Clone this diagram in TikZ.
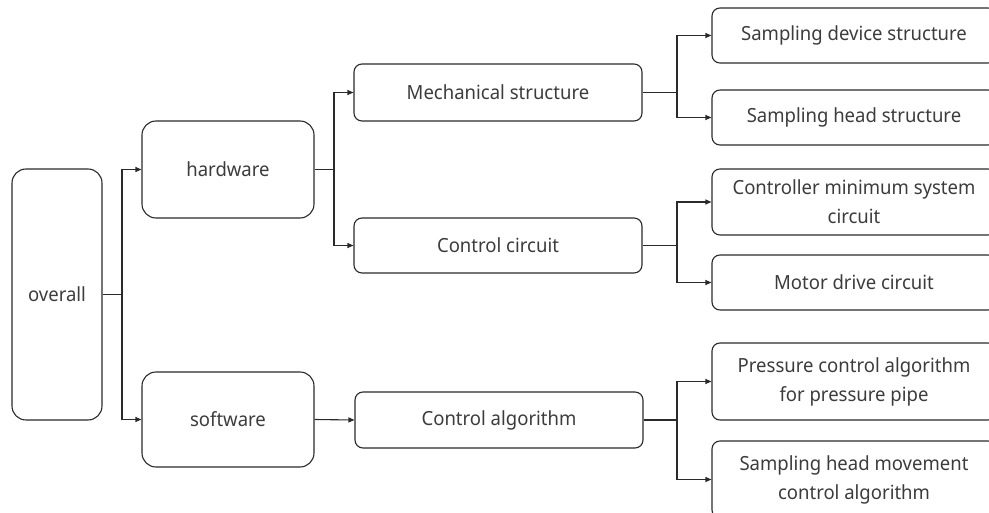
\documentclass[tikz,border=0pt]{standalone}
\usepackage{fontspec}
\setmainfont[FakeStretch=0.95]{Noto Sans}
\usetikzlibrary{arrows.meta}
\definecolor{linec}{HTML}{2A2A2A}
\definecolor{textc}{HTML}{3C3C3C}
\tikzset{
  box/.style={draw=linec, line width=1.1pt, rounded corners=8pt, text=textc,
    align=center, inner sep=0pt, font=\fontsize{19.5}{29}\selectfont},
  bigbox/.style={box, rounded corners=14pt},
  link/.style={draw=linec, line width=1.1pt},
  arr/.style={link, -{Triangle[length=6pt,width=5pt]}}
}
\begin{document}
\begin{tikzpicture}[x=1pt,y=-1pt]
\useasboundingbox (0,0) rectangle (989,513);

% level 0 and 1
\node[bigbox, minimum width=90pt, minimum height=251pt] (overall) at (57,294.5) {overall};
\node[bigbox, minimum width=172pt, minimum height=97pt] (hardware) at (228,169.5) {hardware};
\node[bigbox, minimum width=172pt, minimum height=95pt] (software) at (228,419.5) {software};

% level 2
\node[box, minimum width=288pt, minimum height=57pt] (mech) at (498,92.5) {Mechanical structure};
\node[box, minimum width=288pt, minimum height=55pt] (circ) at (498,245.5) {Control circuit};
\node[box, minimum width=288pt, minimum height=56pt] (algo) at (499,420) {Control algorithm};

% level 3
\node[box, minimum width=284pt, minimum height=55pt] (sdev) at (854,35.5) {Sampling device structure};
\node[box, minimum width=284pt, minimum height=55pt] (shead) at (854,117.5) {Sampling head structure};
\node[box, minimum width=284pt, minimum height=66pt] (cmin) at (854,202) {Controller minimum system\\circuit};
\node[box, minimum width=284pt, minimum height=55pt] (motor) at (854,282.5) {Motor drive circuit};
\node[box, minimum width=284pt, minimum height=77pt] (press) at (854,381.5) {Pressure control algorithm\\for pressure pipe};
\node[box, minimum width=284pt, minimum height=77pt] (smove) at (854,479.5) {Sampling head movement\\control algorithm};

% branch points
\coordinate (ja) at (122,294.5);
\coordinate (jb) at (334,169.5);
\coordinate (jc) at (677,92.5);
\coordinate (jd) at (677,245.5);
\coordinate (je) at (677,420);

% connectors
\draw[arr] (overall.east) -- (ja) |- (hardware.west);
\draw[arr] (ja) |- (software.west);
\draw[arr] (hardware.east) -- (jb) |- (mech.west);
\draw[arr] (jb) |- (circ.west);
\draw[arr] (software.east) -- (algo.west);
\draw[arr] (mech.east) -- (jc) |- (sdev.west);
\draw[arr] (jc) |- (shead.west);
\draw[arr] (circ.east) -- (jd) |- (cmin.west);
\draw[arr] (jd) |- (motor.west);
\draw[arr] (algo.east) -- (je) |- (press.west);
\draw[arr] (je) |- (smove.west);
\end{tikzpicture}
\end{document}
